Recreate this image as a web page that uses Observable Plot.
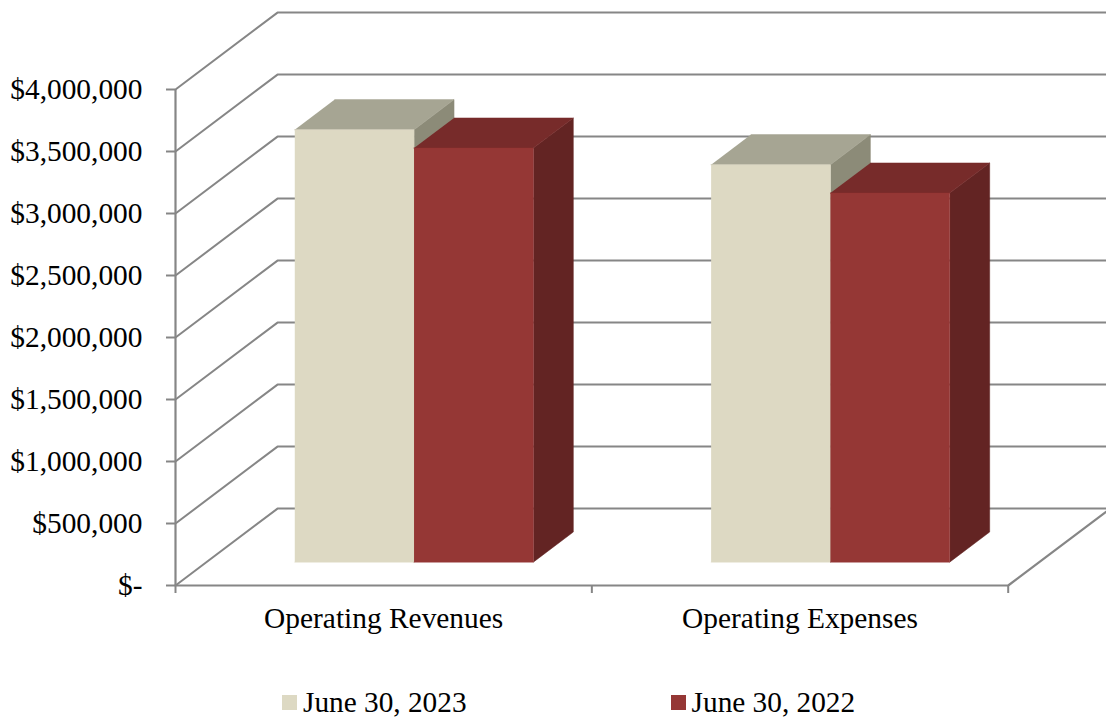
<!DOCTYPE html>
<html>
<head>
<meta charset="utf-8">
<script src="https://cdn.jsdelivr.net/npm/d3@7"></script>
<script src="https://cdn.jsdelivr.net/npm/@observablehq/plot@0.6"></script>
<style>
  html, body { margin: 0; padding: 0; background: #fff; overflow: hidden; }
  #legend { display: flex; align-items: center; height: 69px; padding-left: 282px; padding-top: 36px; box-sizing: border-box;
            font: 29.3px "Liberation Serif", serif; color: #000; white-space: nowrap; }
  #legend .item { display: flex; align-items: center; }
  #legend .item + .item { margin-left: 204px; }
  #legend .sw { width: 15px; height: 15px; margin-right: 6px; }
</style>
</head>
<body>
<div id="chart"></div>
<div id="legend"></div>
<script>
const categories = ["Operating Revenues", "Operating Expenses"];
const seriesNames = ["June 30, 2023", "June 30, 2022"];
const values2023 = [3487000, 3205000];
const values2022 = [3339000, 2976000];
const yTicks = [0, 500000, 1000000, 1500000, 2000000, 2500000, 3000000, 3500000, 4000000];

const seriesValues = [values2023, values2022];
const frontColors = ["#DDD9C3", "#953735"];
const topColors = ["#A6A593", "#772B2A"];
const sideColors = ["#8C8B78", "#632423"];
const gridColor = "#868686";

// Oblique projection: depth z (0 front .. 1 back wall) shifts a point along x and y in data units.
const depthX = 0.245;
const depthY = 620000;
const px = (x, z) => x + z * depthX;
const py = (v, z) => v + z * depthY;
const barWidth = 0.2865;
const zFront = 0.304, zBack = 0.696;

const pt = (id, color, x, v, z) => ({id, color, x: px(x, z), y: py(v, z)});

const grid = yTicks.flatMap(v => [
  pt("g" + v, gridColor, 0, v, 0),
  pt("g" + v, gridColor, 0, v, 1),
  pt("g" + v, gridColor, categories.length, v, 1)
]);
const floorEdge = [
  pt("f", gridColor, 0, 0, 0),
  pt("f", gridColor, categories.length, 0, 0),
  pt("f", gridColor, categories.length, 0, 1)
];

const faces = [];
categories.forEach((c, i) => {
  seriesValues.forEach((vals, s) => {
    const x0 = i + 0.4985 + (s - 1) * barWidth, x1 = x0 + barWidth, v = vals[i], id = c + s;
    const side = [[x1, 0, zFront], [x1, 0, zBack], [x1, v, zBack], [x1, v, zFront]];
    const top = [[x0, v, zFront], [x1, v, zFront], [x1, v, zBack], [x0, v, zBack]];
    const front = [[x0, 0, zFront], [x1, 0, zFront], [x1, v, zFront], [x0, v, zFront]];
    side.forEach(p => faces.push(pt(id + "s", sideColors[s], ...p)));
    top.forEach(p => faces.push(pt(id + "t", topColors[s], ...p)));
    front.forEach(p => faces.push(pt(id + "f", frontColors[s], ...p)));
  });
});

const plot = Plot.plot({
  width: 1106,
  height: 650,
  marginTop: 89,
  marginBottom: 65,
  marginLeft: 175,
  marginRight: 98.3,
  style: {fontFamily: "'Liberation Serif', serif", background: "#fff", overflow: "hidden"},
  x: {domain: [0, categories.length], label: null},
  y: {domain: [0, 4000000], label: null},
  color: {type: "identity"},
  marks: [
    Plot.line(grid, {x: "x", y: "y", z: "id", stroke: gridColor, strokeWidth: 2}),
    Plot.line(floorEdge, {x: "x", y: "y", stroke: gridColor, strokeWidth: 2.2}),
    Plot.ruleX([0], {y1: 0, y2: 4000000, stroke: gridColor, strokeWidth: 2.2}),
    Plot.axisY({
      anchor: "left", ticks: yTicks, tickSize: 9, tickPadding: 24, fontSize: 29.4,
      stroke: gridColor, strokeWidth: 2, strokeOpacity: 1, fill: "#000", label: null,
      tickFormat: v => v === 0 ? "$-" : "$" + d3.format(",")(v)
    }),
    Plot.axisX({
      anchor: "bottom", ticks: [0, 1, 2], tickSize: 8, stroke: gridColor, strokeWidth: 2,
      strokeOpacity: 1, label: null, tickFormat: () => null
    }),
    Plot.axisX({
      anchor: "bottom", ticks: categories.map((c, i) => i + 0.5), tickSize: 0, tickPadding: 22,
      fontSize: 29.4, fill: "#000", label: null, tickFormat: v => categories[Math.floor(v)]
    }),
    ...categories.flatMap(c => seriesValues.flatMap((vals, s) =>
      ["s", "t", "f"].map(k =>
        Plot.line(faces.filter(d => d.id === c + s + k), {
          x: "x", y: "y", fill: "color", stroke: "color", strokeWidth: 0.5, strokeLinejoin: "miter"
        })
      )
    ))
  ]
});
document.getElementById("chart").append(plot);

const legend = d3.select("#legend");
seriesNames.forEach((n, s) => {
  const it = legend.append("div").attr("class", "item");
  it.append("div").attr("class", "sw").style("background", frontColors[s]);
  it.append("span").text(n);
});
</script>
</body>
</html>
